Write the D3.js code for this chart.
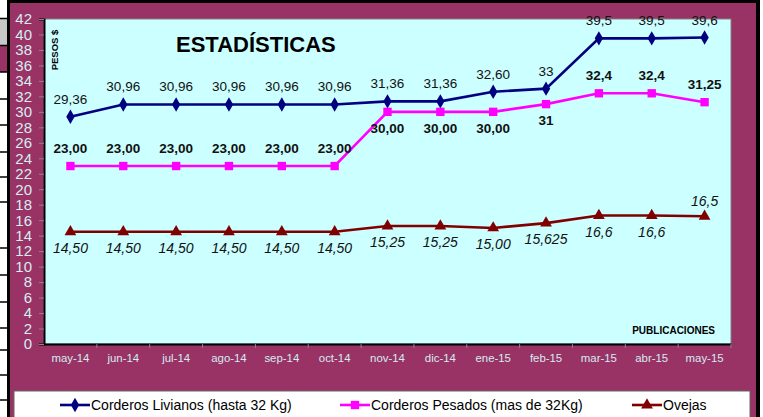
<!DOCTYPE html>
<html><head><meta charset="utf-8">
<script src="https://cdn.jsdelivr.net/npm/d3@7/dist/d3.min.js"></script>
<style>body{margin:0;background:#fff;}svg{display:block;font-family:"Liberation Sans",Arial,sans-serif;}</style>
</head><body>
<script>
const months = ["may-14","jun-14","jul-14","ago-14","sep-14","oct-14","nov-14","dic-14","ene-15","feb-15","mar-15","abr-15","may-15"];
const livianos = [29.36,30.96,30.96,30.96,30.96,30.96,31.36,31.36,32.60,33,39.5,39.5,39.6];
const livianosLabels = ["29,36","30,96","30,96","30,96","30,96","30,96","31,36","31,36","32,60","33","39,5","39,5","39,6"];
const pesados = [23,23,23,23,23,23,30,30,30,31,32.4,32.4,31.25];
const pesadosLabels = ["23,00","23,00","23,00","23,00","23,00","23,00","30,00","30,00","30,00","31","32,4","32,4","31,25"];
const ovejas = [14.5,14.5,14.5,14.5,14.5,14.5,15.25,15.25,15.00,15.625,16.6,16.6,16.5];
const ovejasLabels = ["14,50","14,50","14,50","14,50","14,50","14,50","15,25","15,25","15,00","15,625","16,6","16,6","16,5"];
const seriesNames = ["Corderos Livianos (hasta 32 Kg)","Corderos Pesados (mas de 32Kg)","Ovejas"];
const yTicks = d3.range(0,43,2);

const W=763,H=417;
const svg=d3.select("body").append("svg").attr("width",W).attr("height",H);

// spreadsheet remnants at left
svg.append("rect").attr("x",0).attr("y",19).attr("width",8).attr("height",26).attr("fill","#c8c8c8");
svg.append("rect").attr("x",0).attr("y",46).attr("width",8).attr("height",26).attr("fill","#993366");
[18.5,45.5,72,99,125,152,177,202,248,275,302,328,350,375,400].forEach(yy=>{
  svg.append("line").attr("x1",0).attr("x2",8).attr("y1",yy).attr("y2",yy).attr("stroke","#000").attr("stroke-width",1.5);
});

// outer chart area
svg.append("rect").attr("x",7).attr("y",0).attr("width",753).attr("height",H+5).attr("fill","#000");
svg.append("rect").attr("x",10).attr("y",3).attr("width",746).attr("height",H).attr("fill","#993366");

const pLeft=44,pRight=731,pTop=19,pBottom=344;
const x=d3.scaleBand().domain(months).range([pLeft,pRight]).padding(0);
const y=d3.scaleLinear().domain([0,42]).range([pBottom,pTop]);
const cx=m=>x(m)+x.bandwidth()/2;

svg.append("rect").attr("x",pLeft).attr("y",pTop).attr("width",pRight-pLeft).attr("height",pBottom-pTop)
  .attr("fill","#CCFFFF").attr("stroke","#808080").attr("stroke-width",1);

// y axis
const yAxis=svg.append("g").attr("transform",`translate(${pLeft},0)`)
  .call(d3.axisLeft(y).tickValues(yTicks).tickSize(5).tickPadding(7).tickFormat(d3.format("d")));
yAxis.select(".domain").attr("stroke","#000").attr("stroke-width",2);
yAxis.selectAll(".tick line").attr("stroke","#888");
yAxis.selectAll("text").attr("fill","#d4ecf2").attr("font-size","15px").attr("font-family","Liberation Sans, Arial");

// x axis
const xAxis=svg.append("g").attr("transform",`translate(0,${pBottom})`)
  .call(d3.axisBottom(x).tickSize(0).tickPadding(10));
xAxis.select(".domain").attr("stroke","#000").attr("stroke-width",2);
xAxis.selectAll("text").attr("fill","#d4ecf2").attr("font-size","11.4px").attr("font-family","Liberation Sans, Arial");
months.forEach((m,i)=>{
  if(i>0) svg.append("line").attr("x1",x(m)).attr("x2",x(m)).attr("y1",pBottom).attr("y2",pBottom+4).attr("stroke","#888");
});
svg.append("line").attr("x1",pRight).attr("x2",pRight).attr("y1",pBottom).attr("y2",pBottom+4).attr("stroke","#888");

// titles
svg.append("text").attr("x",176).attr("y",52).attr("font-size","22px").attr("font-weight","bold").attr("fill","#000").text("ESTADÍSTICAS");
svg.append("text").attr("transform","translate(58,50) rotate(-90)").attr("text-anchor","middle")
  .attr("font-size","9.5px").attr("font-weight","bold").attr("fill","#000").text("PESOS $");
svg.append("text").attr("x",715).attr("y",334).attr("text-anchor","end").attr("font-size","10px").attr("font-weight","bold").attr("fill","#000").text("PUBLICACIONES");

const line=d3.line().x((d,i)=>cx(months[i])).y(d=>y(d));
const series=[
  {vals:livianos,labels:livianosLabels,color:"#000080",sym:d3.symbolDiamond,size:60},
  {vals:pesados,labels:pesadosLabels,color:"#FF00FF",sym:d3.symbolSquare,size:70},
  {vals:ovejas,labels:ovejasLabels,color:"#800000",sym:d3.symbolTriangle,size:60}
];
series.forEach(s=>{
  svg.append("path").datum(s.vals).attr("d",line).attr("fill","none").attr("stroke",s.color).attr("stroke-width",2.6);
  svg.selectAll(null).data(s.vals).enter().append("path")
    .attr("d",d3.symbol().type(s.sym).size(s.size))
    .attr("transform",(d,i)=>`translate(${cx(months[i])},${y(d)})`).attr("fill",s.color);
});

// labels
livianos.forEach((v,i)=>{
  svg.append("text").attr("x",cx(months[i])).attr("y",y(v)-13).attr("text-anchor","middle")
    .attr("font-size","13.5px").attr("fill","#111").text(livianosLabels[i]);
});
pesados.forEach((v,i)=>{
  const below=(livianos[i]-v)<3;
  svg.append("text").attr("x",cx(months[i])).attr("y",below?y(v)+21:y(v)-13).attr("text-anchor","middle")
    .attr("font-size","13.5px").attr("font-weight","bold").attr("fill","#111").text(pesadosLabels[i]);
});
ovejas.forEach((v,i)=>{
  const above=i===ovejas.length-1;
  svg.append("text").attr("x",cx(months[i])).attr("y",above?y(v)-10:y(v)+21).attr("text-anchor","middle")
    .attr("font-size","14px").attr("font-style","italic").attr("fill","#111").text(ovejasLabels[i]);
});

// legend
svg.append("rect").attr("x",14).attr("y",391).attr("width",736).attr("height",40).attr("fill","#fff").attr("stroke","#666").attr("stroke-width",1);
const legX=[60,340,632];
series.forEach((s,k)=>{
  const lx=legX[k], ly=405;
  svg.append("line").attr("x1",lx).attr("x2",lx+30).attr("y1",ly).attr("y2",ly).attr("stroke",s.color).attr("stroke-width",2.6);
  svg.append("path").attr("d",d3.symbol().type(s.sym).size(s.size)).attr("transform",`translate(${lx+15},${ly})`).attr("fill",s.color);
  svg.append("text").attr("x",lx+31).attr("y",ly+5).attr("font-size","14px").attr("fill","#000").text(seriesNames[k]);
});
</script>
</body></html>
